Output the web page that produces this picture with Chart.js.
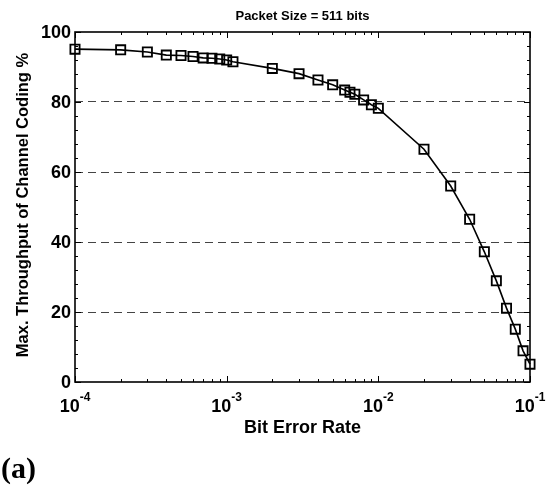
<!DOCTYPE html>
<html><head><meta charset="utf-8">
<script src="https://cdn.jsdelivr.net/npm/chart.js@4/dist/chart.umd.min.js"></script>
<style>html,body{margin:0;padding:0;background:#fff}#wrap{width:549px;height:490px;position:relative}</style>
</head><body><div id="wrap"><canvas id="c" width="549" height="490"></canvas></div>
<script>
const bitErrorRate = [1e-4, 2e-4, 3e-4, 4e-4, 5e-4, 6e-4, 7e-4, 8e-4, 9e-4, 1e-3, 1.1e-3,
  2e-3, 3e-3, 4e-3, 5e-3, 6e-3, 6.5e-3, 7e-3, 8e-3, 9e-3, 1e-2,
  2e-2, 3e-2, 4e-2, 5e-2, 6e-2, 7e-2, 8e-2, 9e-2, 1e-1];
const throughput = [95.1, 94.9, 94.3, 93.4, 93.3, 93.0, 92.6, 92.5, 92.3, 92.0, 91.5,
  89.6, 88.1, 86.3, 84.9, 83.4, 82.8, 82.2, 80.6, 79.2, 78.2,
  66.5, 56.0, 46.5, 37.2, 28.9, 21.1, 15.1, 8.9, 5.1];
const yTickValues = [0, 20, 40, 60, 80, 100];
const xTickValues = [1e-4, 1e-3, 1e-2, 1e-1];
const xTickExponents = ['-4', '-3', '-2', '-1'];
const chartTitle = 'Packet Size = 511 bits';
const xAxisTitle = 'Bit Error Rate';
const yAxisTitle = 'Max. Throughput of Channel Coding %';
const panelLabel = '(a)';

const SANS = '"Liberation Sans", Arial, Helvetica, sans-serif';
const SERIF = '"Liberation Serif", "Times New Roman", serif';

const decorPlugin = {
  id: 'decor',
  afterDraw(chart) {
    const ctx = chart.ctx;
    const {left, right, top, bottom} = chart.chartArea;
    const xs = chart.scales.x, ys = chart.scales.y;
    ctx.save();
    ctx.strokeStyle = '#000';
    ctx.lineWidth = 1;
    const xmin = Math.log10(xs.min), xmax = Math.log10(xs.max);
    for (let d = Math.round(xmin); d <= Math.round(xmax); d++) {
      for (let m = 1; m <= 9; m++) {
        const v = m * Math.pow(10, d);
        if (v < xs.min * 0.999 || v > xs.max * 1.001) continue;
        const px = Math.round(xs.getPixelForValue(v)) + 0.5;
        const len = m === 1 ? 6 : 3;
        ctx.beginPath();
        ctx.moveTo(px, bottom); ctx.lineTo(px, bottom - len);
        ctx.moveTo(px, top); ctx.lineTo(px, top + len);
        ctx.stroke();
      }
    }
    for (let v = ys.min; v <= ys.max; v += 4) {
      const py = Math.round(ys.getPixelForValue(v)) + 0.5;
      const len = v % 20 === 0 ? 6 : 3;
      ctx.beginPath();
      ctx.moveTo(left, py); ctx.lineTo(left + len, py);
      ctx.moveTo(right, py); ctx.lineTo(right - len, py);
      ctx.stroke();
    }
    ctx.lineWidth = 1.6;
    ctx.strokeRect(left, top, right - left, bottom - top);

    ctx.fillStyle = '#000';
    ctx.font = 'bold 18px ' + SANS;
    ctx.textAlign = 'right';
    ctx.textBaseline = 'middle';
    yTickValues.forEach(v => {
      ctx.fillText(String(v), left - 4, ys.getPixelForValue(v) + 1);
    });
    ctx.textBaseline = 'alphabetic';
    ctx.textAlign = 'left';
    xTickValues.forEach((v, i) => {
      const px = xs.getPixelForValue(v);
      ctx.font = 'bold 18px ' + SANS;
      const wb = ctx.measureText('10').width;
      ctx.font = 'bold 12px ' + SANS;
      const we = ctx.measureText(xTickExponents[i]).width;
      const x0 = px - (wb + we) / 2;
      ctx.font = 'bold 18px ' + SANS;
      ctx.fillText('10', x0, 412);
      ctx.font = 'bold 12px ' + SANS;
      ctx.fillText(xTickExponents[i], x0 + wb, 401);
    });
    ctx.textAlign = 'center';
    ctx.font = 'bold 13px ' + SANS;
    ctx.fillText(chartTitle, (left + right) / 2, 20);
    ctx.font = 'bold 18px ' + SANS;
    ctx.fillText(xAxisTitle, (left + right) / 2, 433);
    ctx.save();
    ctx.translate(28, (top + bottom) / 2 - 2);
    ctx.rotate(-Math.PI / 2);
    ctx.font = 'bold 16.5px ' + SANS;
    ctx.fillText(yAxisTitle, 0, 0);
    ctx.restore();
    ctx.textAlign = 'left';
    ctx.font = 'bold 30px ' + SERIF;
    ctx.fillText(panelLabel, 1, 478);
    ctx.restore();
  }
};

new Chart(document.getElementById('c'), {
  type: 'scatter',
  data: {
    datasets: [{
      data: bitErrorRate.map((x, i) => ({x: x, y: throughput[i]})),
      showLine: true,
      borderColor: '#000',
      borderWidth: 1.6,
      pointStyle: 'rect',
      pointRadius: 6.5,
      pointBorderWidth: 1.8,
      pointBorderColor: '#000',
      pointBackgroundColor: 'rgba(0,0,0,0)',
      tension: 0,
      clip: false
    }]
  },
  options: {
    responsive: false,
    animation: false,
    devicePixelRatio: 1,
    layout: {padding: {left: 75, right: 19, top: 32, bottom: 108}},
    plugins: {legend: {display: false}, tooltip: {enabled: false}, title: {display: false}},
    scales: {
      x: {
        type: 'logarithmic', min: 1e-4, max: 1e-1,
        ticks: {display: false},
        grid: {display: false, drawTicks: false},
        border: {display: false}
      },
      y: {
        type: 'linear', min: 0, max: 100,
        ticks: {display: false, stepSize: 20},
        grid: {
          drawTicks: false, lineWidth: 1,
          color: c => (c.tick && c.tick.value > 0 && c.tick.value < 100) ? '#444' : 'rgba(0,0,0,0)'
        },
        border: {display: false, dash: [8, 5]}
      }
    }
  },
  plugins: [decorPlugin]
});
</script></body></html>
